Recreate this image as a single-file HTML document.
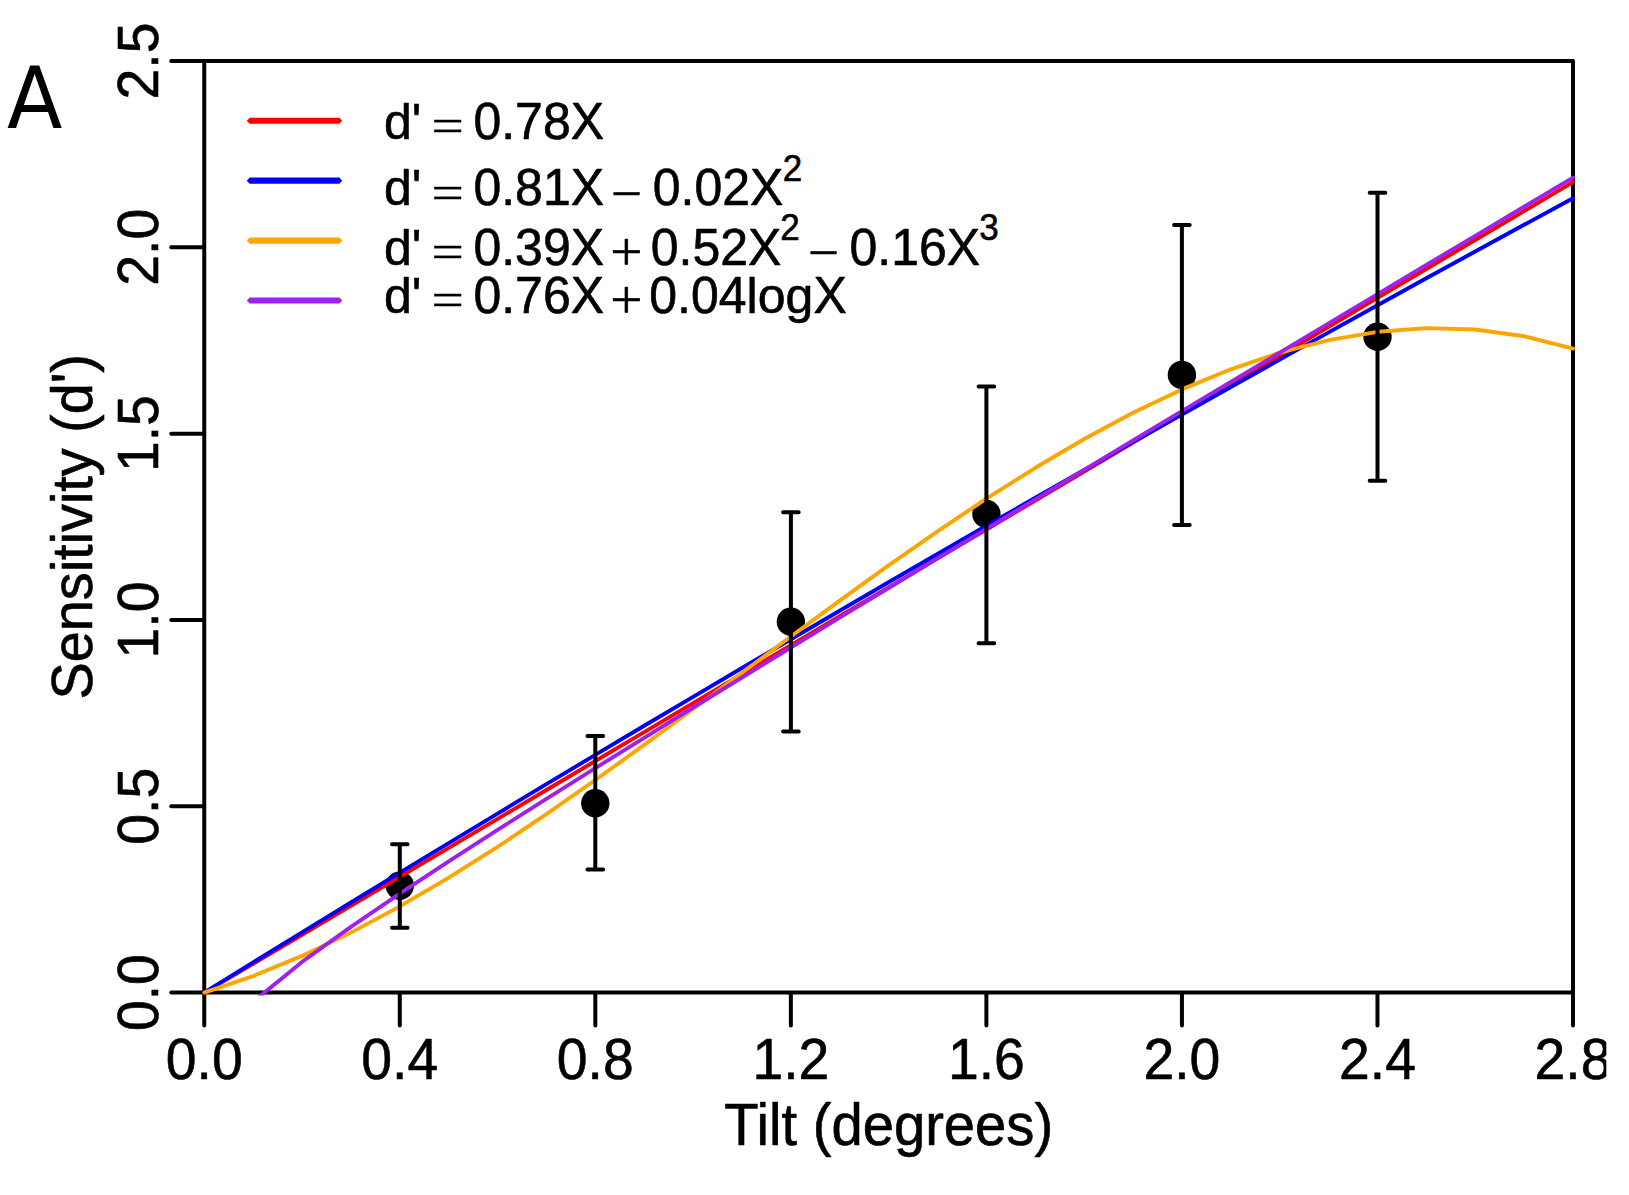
<!DOCTYPE html>
<html><head><meta charset="utf-8"><title>Figure A</title>
<style>
html,body{margin:0;padding:0;background:#fff;}
body{width:1629px;height:1195px;overflow:hidden;}
svg{display:block;}
text{font-family:"Liberation Sans", sans-serif;fill:#000;stroke:#000;stroke-width:0.6px;stroke-linejoin:round;}
.ax{font-size:55.3px;}
.ti{font-size:55.8px;}
.lg{font-size:50px;}
.sup{font-size:35px;}
.op{font-family:"Liberation Serif","DejaVu Serif",serif;font-size:52.5px;stroke:#000;stroke-width:0.45px;}
.k{stroke:#000;stroke-width:4;stroke-linecap:round;stroke-linejoin:round;fill:none;}
.c{stroke-width:3.9;stroke-linecap:round;stroke-linejoin:round;fill:none;}
</style></head><body>
<svg width="1629" height="1195" viewBox="0 0 1629 1195">
<defs><clipPath id="plot"><rect x="202.3" y="59" width="1373.2" height="936.6"/></clipPath>
<clipPath id="fig"><rect x="0" y="0" width="1606.3" height="1195"/></clipPath></defs>
<rect width="1629" height="1195" fill="#fff"/>

<g fill="#000">
<circle cx="399.8" cy="885.6" r="14.2"/>
<circle cx="595.3" cy="803.2" r="14.2"/>
<circle cx="790.9" cy="621.8" r="14.2"/>
<circle cx="986.4" cy="514.0" r="14.2"/>
<circle cx="1181.9" cy="374.9" r="14.2"/>
<circle cx="1377.5" cy="336.7" r="14.2"/>
</g>
<g class="k">
<rect x="204.25" y="61.00" width="1368.75" height="931.60"/>
<path d="M204.25 993.60V1025.60"/>
<path d="M399.79 993.60V1025.60"/>
<path d="M595.32 993.60V1025.60"/>
<path d="M790.86 993.60V1025.60"/>
<path d="M986.39 993.60V1025.60"/>
<path d="M1181.93 993.60V1025.60"/>
<path d="M1377.46 993.60V1025.60"/>
<path d="M1573.00 993.60V1025.60"/>
<path d="M203.25 992.60H171.25"/>
<path d="M203.25 806.28H171.25"/>
<path d="M203.25 619.96H171.25"/>
<path d="M203.25 433.64H171.25"/>
<path d="M203.25 247.32H171.25"/>
<path d="M203.25 61.00H171.25"/>
</g>
<g clip-path="url(#plot)">
<path class="c" stroke="#ff0000" d="M204.2 992.6 L253.1 963.7 L302.0 934.7 L350.9 905.8 L399.8 876.8 L448.7 847.9 L497.6 818.9 L546.4 790.0 L595.3 761.0 L644.2 732.1 L693.1 703.1 L742.0 674.2 L790.9 645.2 L839.7 616.3 L888.6 587.4 L937.5 558.4 L986.4 529.5 L1035.3 500.5 L1084.2 471.6 L1133.0 442.6 L1181.9 413.7 L1230.8 384.7 L1279.7 355.8 L1328.6 326.8 L1377.5 297.9 L1426.3 269.0 L1475.2 240.0 L1524.1 211.1 L1573.0 182.1"/>
<path class="c" stroke="#0000ff" d="M204.2 992.6 L253.1 962.4 L302.0 932.4 L350.9 902.5 L399.8 872.7 L448.7 843.1 L497.6 813.6 L546.4 784.2 L595.3 754.9 L644.2 725.8 L693.1 696.9 L742.0 668.0 L790.9 639.3 L839.7 610.8 L888.6 582.3 L937.5 554.0 L986.4 525.8 L1035.3 497.8 L1084.2 469.9 L1133.0 442.1 L1181.9 414.5 L1230.8 387.0 L1279.7 359.6 L1328.6 332.4 L1377.5 305.3 L1426.3 278.3 L1475.2 251.5 L1524.1 224.8 L1573.0 198.2"/>
<path class="c" stroke="#ffa500" d="M204.2 992.6 L253.1 976.1 L302.0 955.9 L350.9 932.6 L399.8 906.4 L448.7 877.6 L497.6 846.8 L546.4 814.1 L595.3 780.0 L644.2 744.8 L693.1 709.0 L742.0 672.7 L790.9 636.5 L839.7 600.6 L888.6 565.4 L937.5 531.3 L986.4 498.6 L1035.3 467.8 L1084.2 439.0 L1133.0 412.8 L1181.9 389.4 L1230.8 369.3 L1279.7 352.7 L1328.6 340.1 L1377.5 331.8 L1426.3 328.1 L1475.2 329.5 L1524.1 336.2 L1573.0 348.6"/>
<path class="c" stroke="#a020f0" d="M253.1 1001.8 L302.0 961.9 L350.9 926.8 L399.8 893.6 L448.7 861.4 L497.6 829.9 L546.4 798.9 L595.3 768.2 L644.2 737.8 L693.1 707.5 L742.0 677.5 L790.9 647.5 L839.7 617.7 L888.6 588.0 L937.5 558.4 L986.4 528.8 L1035.3 499.3 L1084.2 469.9 L1133.0 440.5 L1181.9 411.1 L1230.8 381.8 L1279.7 352.6 L1328.6 323.3 L1377.5 294.1 L1426.3 265.0 L1475.2 235.8 L1524.1 206.7 L1573.0 177.6"/>
</g>
<g class="k">
<path d="M399.8 844.2V927.8M392.0 844.2H407.6M392.0 927.8H407.6"/>
<path d="M595.3 736.1V869.5M587.5 736.1H603.1M587.5 869.5H603.1"/>
<path d="M790.9 512.3V731.5M783.1 512.3H798.7M783.1 731.5H798.7"/>
<path d="M986.4 386.4V643.2M978.6 386.4H994.2M978.6 643.2H994.2"/>
<path d="M1181.9 224.9V524.9M1174.1 224.9H1189.7M1174.1 524.9H1189.7"/>
<path d="M1377.5 192.8V480.7M1369.7 192.8H1385.3M1369.7 480.7H1385.3"/>
</g>
<g class="ax" text-anchor="middle" clip-path="url(#fig)">
<text transform="translate(204.2 1079.2) scale(1 1.04)">0.0</text>
<text transform="translate(399.8 1079.2) scale(1 1.04)">0.4</text>
<text transform="translate(595.3 1079.2) scale(1 1.04)">0.8</text>
<text transform="translate(790.9 1079.2) scale(1 1.04)">1.2</text>
<text transform="translate(986.4 1079.2) scale(1 1.04)">1.6</text>
<text transform="translate(1181.9 1079.2) scale(1 1.04)">2.0</text>
<text transform="translate(1377.5 1079.2) scale(1 1.04)">2.4</text>
<text transform="translate(1573.0 1079.2) scale(1 1.04)">2.8</text>
<text transform="translate(158.0 992.6) rotate(-90) scale(1 1.04)">0.0</text>
<text transform="translate(158.0 806.3) rotate(-90) scale(1 1.04)">0.5</text>
<text transform="translate(158.0 620.0) rotate(-90) scale(1 1.04)">1.0</text>
<text transform="translate(158.0 433.6) rotate(-90) scale(1 1.04)">1.5</text>
<text transform="translate(158.0 247.3) rotate(-90) scale(1 1.04)">2.0</text>
<text transform="translate(158.0 61.0) rotate(-90) scale(1 1.04)">2.5</text>
<text class="ti" style="font-size:56.2px" transform="translate(888.7 1145.4) scale(1 1.04)">Tilt (degrees)</text>
<text class="ti" transform="translate(92.3 526.8) rotate(-90) scale(1 1.04)">Sensitivity (d')</text>
</g>
<text x="7.0" y="127.8" style="font-family:'DejaVu Sans',sans-serif;font-size:86px;stroke:none" textLength="55.4" lengthAdjust="spacingAndGlyphs">A</text>
<path fill="#ff0000" d="M246.8 120.8L249.6 117.8H339.4L342.2 120.8L339.4 123.8H249.6Z"/>
<path fill="#0000ff" d="M246.8 180.7L249.6 177.6H339.4L342.2 180.7L339.4 183.8H249.6Z"/>
<path fill="#ffa500" d="M246.8 240.6L249.6 237.5H339.4L342.2 240.6L339.4 243.7H249.6Z"/>
<path fill="#a020f0" d="M246.8 300.5L249.6 297.4H339.4L342.2 300.5L339.4 303.6H249.6Z"/>
<text class="lg" transform="translate(383.9 138.9) scale(1 0.990)">d'</text>
<text class="op" transform="translate(431.4 141.30) scale(1.09 0.90)">=</text>
<text class="lg" transform="translate(473.4 138.9) scale(1 1.035)">0.78X</text>
<text class="lg" transform="translate(383.9 205.2) scale(1 0.990)">d'</text>
<text class="op" transform="translate(431.4 207.60) scale(1.09 0.90)">=</text>
<text class="lg" transform="translate(473.4 205.2) scale(1 1.035)">0.81X</text>
<text class="op" transform="translate(610.9 210.50) scale(1.05 1.00)">−</text>
<text class="lg" transform="translate(652.8 205.2) scale(1 1.035)">0.02X</text>
<text class="sup" transform="translate(782.7 180.9) scale(1 1.035)">2</text>
<text class="lg" transform="translate(383.9 264.7) scale(1 0.990)">d'</text>
<text class="op" transform="translate(431.4 267.10) scale(1.09 0.90)">=</text>
<text class="lg" transform="translate(473.4 264.7) scale(1 1.035)">0.39X</text>
<text class="op" transform="translate(610.3 269.80) scale(1.09 1.03)">+</text>
<text class="lg" transform="translate(650.7 264.7) scale(1 1.035)">0.52X</text>
<text class="sup" transform="translate(780.3 240.4) scale(1 1.035)">2</text>
<text class="op" transform="translate(808.1 270.00) scale(1.05 1.00)">−</text>
<text class="lg" transform="translate(849.5 264.7) scale(1 1.035)">0.16X</text>
<text class="sup" transform="translate(979.2 240.4) scale(1 1.035)">3</text>
<text class="lg" transform="translate(383.9 312.8) scale(1 0.990)">d'</text>
<text class="op" transform="translate(431.4 315.20) scale(1.09 0.90)">=</text>
<text class="lg" transform="translate(473.4 312.8) scale(1 1.035)">0.76X</text>
<text class="op" transform="translate(610.3 317.90) scale(1.09 1.03)">+</text>
<text class="lg" transform="translate(649.3 312.8) scale(1 1.035)">0.04</text>
<text class="lg" transform="translate(746.6 312.8) scale(1 0.990)">log</text>
<text class="lg" transform="translate(813.6 312.8) scale(1 1.035)">X</text>
</svg></body></html>
